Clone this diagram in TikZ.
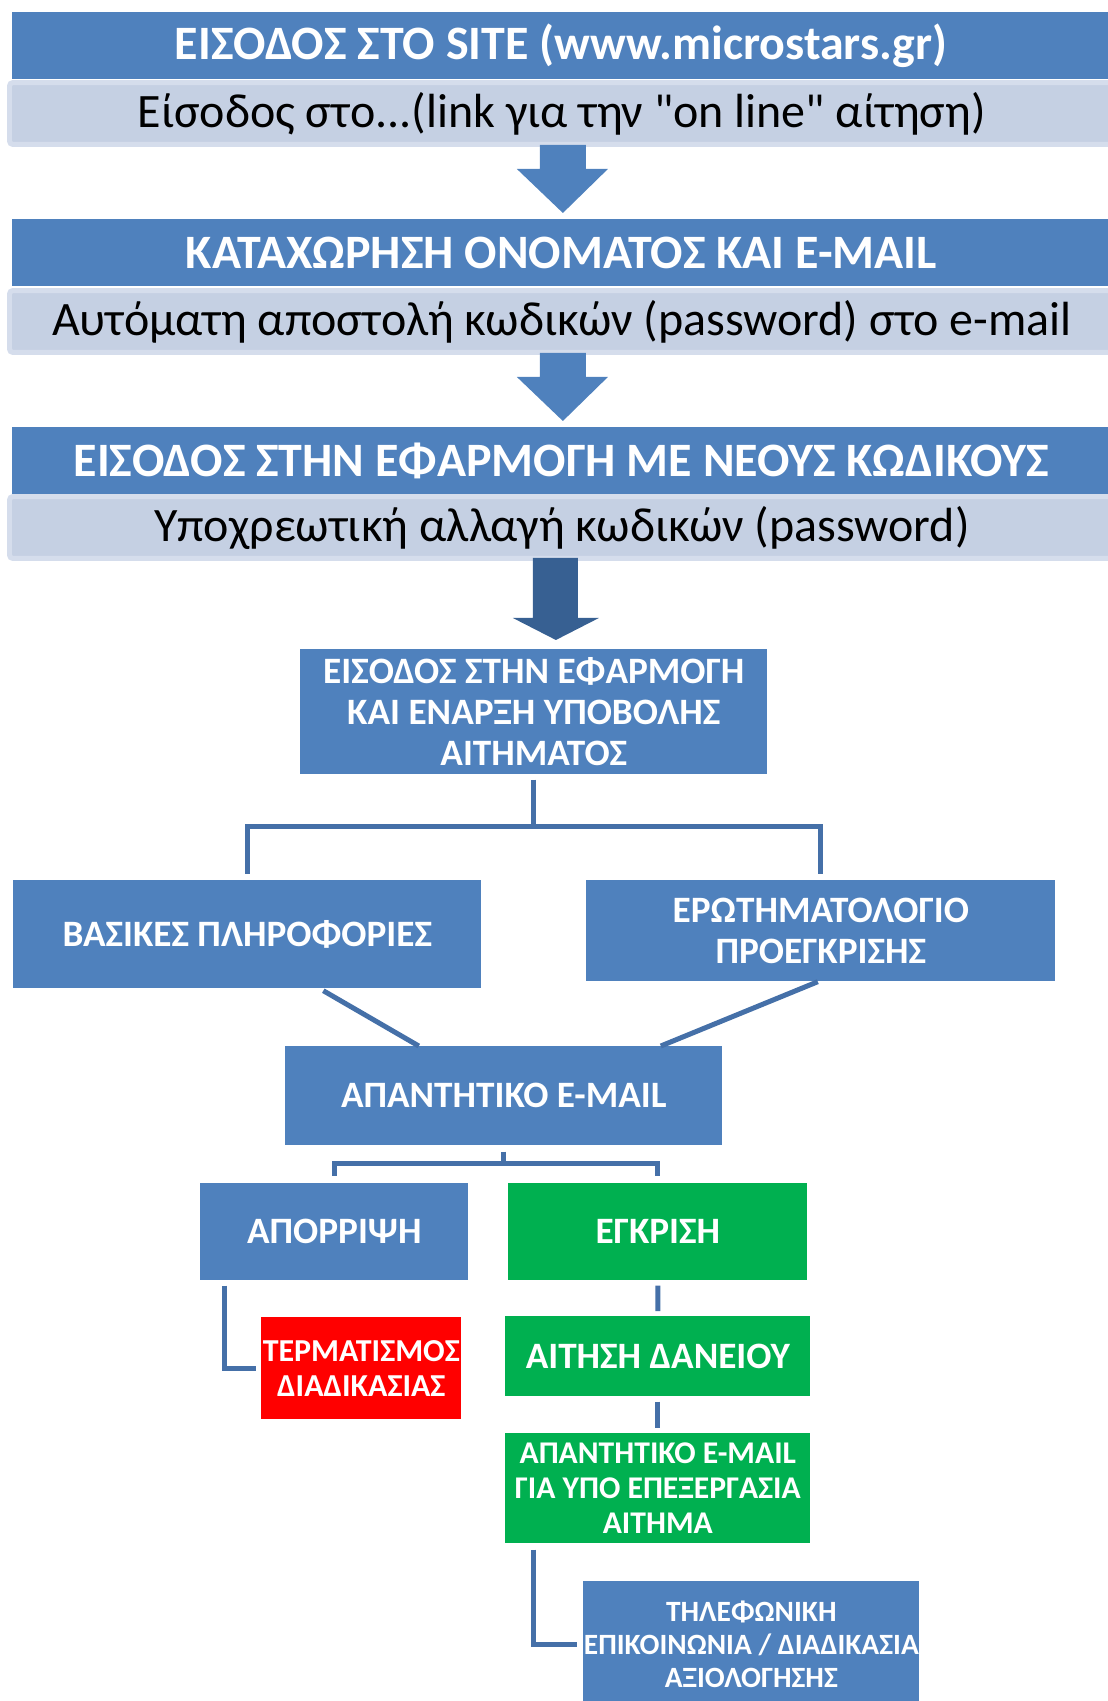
\documentclass[tikz,border=0pt]{standalone}
\usepackage{fontspec}
\setmainfont{Carlito}
\usetikzlibrary{calc}
\definecolor{hdrblue}{HTML}{4F81BD}
\definecolor{subfill}{HTML}{C5D0E3}
\definecolor{subedge}{HTML}{D5DDEC}
\definecolor{darkarrow}{HTML}{376092}
\definecolor{lineblue}{HTML}{4570A8}
\definecolor{okgreen}{HTML}{00B050}
\definecolor{stopred}{HTML}{FF0000}

\begin{document}
\begin{tikzpicture}[x=0.02cm,y=-0.02cm,
		hdr/.style={fill=hdrblue, text=white, anchor=north west, inner sep=0pt,
			minimum width=21.96cm, minimum height=1.34cm, font=\fontsize{27.3}{32}\selectfont\bfseries},
		sub/.style={fill=subfill, draw=subedge, line width=0.1cm, rounded corners=2pt, anchor=north west,
			inner sep=0pt, minimum width=22.1cm, minimum height=1.24cm, font=\fontsize{27.3}{32}\selectfont},
		box/.style={fill=hdrblue, text=white, anchor=north west, inner sep=0pt, align=center,
			font=\fontsize{21.2}{23.3}\selectfont\bfseries},
		conn/.style={draw=lineblue, line width=0.1cm}]
				\useasboundingbox (0,0) rectangle (1107,1701);
				
				\node[hdr] (hdr1) at (12,12) {ΕΙΣΟΔΟΣ ΣΤΟ SITE (www.microstars.gr)};
				\node[sub] (sub1) at (7,80) {Είσοδος στο...(link για την \textquotedbl on line\textquotedbl{} αίτηση)};
				\node[hdr] (hdr2) at (12,219) {ΚΑΤΑΧΩΡΗΣΗ ΟΝΟΜΑΤΟΣ ΚΑΙ E-MAIL};
				\node[sub] (sub2) at (7,288) {Αυτόματη αποστολή κωδικών (password) στο e-mail};
				\node[hdr] (hdr3) at (12,427) {ΕΙΣΟΔΟΣ ΣΤΗΝ ΕΦΑΡΜΟΓΗ ΜΕ ΝΕΟΥΣ ΚΩΔΙΚΟΥΣ};
				\node[sub] (sub3) at (7,494) {Υποχρεωτική αλλαγή κωδικών (password)};
				
				\foreach \a in {sub1,sub2}{
					\fill[hdrblue] ($(\a.south)+(-22,-2)$) -- ($(\a.south)+(-22,22)$) -- ($(\a.south)+(-45,22)$)
					-- ($(\a.south)+(1,66)$) -- ($(\a.south)+(46,22)$) -- ($(\a.south)+(24,22)$) -- ($(\a.south)+(24,-2)$) -- cycle;}
				\fill[darkarrow] ($(sub3.south)+(-29,-3)$) -- ($(sub3.south)+(-29,57)$) -- ($(sub3.south)+(-49,57)$)
				-- ($(sub3.south)+(-6,79)$) -- ($(sub3.south)+(37,57)$) -- ($(sub3.south)+(16,57)$) -- ($(sub3.south)+(16,-3)$) -- cycle;
				
				\node[box, minimum width=9.34cm, minimum height=2.5cm] (start) at (300,649)
				{ΕΙΣΟΔΟΣ ΣΤΗΝ ΕΦΑΡΜΟΓΗ\\ΚΑΙ ΕΝΑΡΞΗ ΥΠΟΒΟΛΗΣ\\ΑΙΤΗΜΑΤΟΣ};
				\node[box, minimum width=9.36cm, minimum height=2.16cm] (basic) at (13,880) {ΒΑΣΙΚΕΣ ΠΛΗΡΟΦΟΡΙΕΣ};
				\node[box, minimum width=9.38cm, minimum height=2.02cm] (quest) at (586,880) {ΕΡΩΤΗΜΑΤΟΛΟΓΙΟ\\ΠΡΟΕΓΚΡΙΣΗΣ};
				\node[box, minimum width=8.74cm, minimum height=1.98cm] (reply) at (285,1046) {ΑΠΑΝΤΗΤΙΚΟ E-MAIL};
				\node[box, minimum width=5.36cm, minimum height=1.94cm] (reject) at (200,1183) {ΑΠΟΡΡΙΨΗ};
				\node[box, fill=okgreen, minimum width=5.98cm, minimum height=1.94cm] (approve) at (508,1183) {ΕΓΚΡΙΣΗ};
				\node[box, fill=stopred, minimum width=4cm, minimum height=2.04cm,
				font=\fontsize{18.2}{19.9}\selectfont\bfseries] (term) at (261,1317) {ΤΕΡΜΑΤΙΣΜΟΣ\\ΔΙΑΔΙΚΑΣΙΑΣ};
				\node[box, fill=okgreen, minimum width=6.1cm, minimum height=1.6cm] (loan) at (505,1316) {ΑΙΤΗΣΗ ΔΑΝΕΙΟΥ};
				\node[box, fill=okgreen, minimum width=6.1cm, minimum height=2.2cm,
				font=\fontsize{18}{19.9}\selectfont\bfseries] (reply2) at (505,1433)
				{ΑΠΑΝΤΗΤΙΚΟ E-MAIL\\ΓΙΑ ΥΠΟ ΕΠΕΞΕΡΓΑΣΙΑ\\ΑΙΤΗΜΑ};
				\node[box, minimum width=6.72cm, minimum height=2.52cm,
				font=\fontsize{16.75}{18.8}\selectfont\bfseries] (phone) at (583,1581)
				{ΤΗΛΕΦΩΝΙΚΗ\\ΕΠΙΚΟΙΝΩΝΙΑ / ΔΙΑΔΙΚΑΣΙΑ\\ΑΞΙΟΛΟΓΗΣΗΣ};
				
				\coordinate (fork1) at (start.south |- 0,826);
				\coordinate (fork2) at ($(reply.south)+(0,18)$);
				
				\draw[conn, shorten <=0.1cm, shorten >=0.12cm] (start.south) -- (fork1) -| (basic.north);
				\draw[conn, shorten >=0.12cm] (fork1) -| (quest.north);
				\draw[conn] ($(basic.south)+(76,2)$) -- ($(reply.north)+(-85,0)$);
				\draw[conn] ($(quest.south)+(-3,0)$) -- ($(reply.north)+(157,0)$);
				
				\draw[conn, shorten <=0.12cm, shorten >=0.14cm] (reply.south) -- (fork2) -| (reject.north);
				\draw[conn, shorten >=0.14cm] (fork2) -| (approve.north);
				\draw[conn, shorten >=0.1cm] ($(reject.south west)+(24,5)$) |- (term.west);
				
				\foreach \a/\b in {approve/loan,loan/reply2}{
					\draw[conn, shorten <=0.1cm, shorten >=0.1cm] (\a.south) -- (\b.north);}
				\draw[conn, shorten >=0.12cm] ($(reply2.south west)+(28,6)$) |- (phone.west);
\end{tikzpicture}
\end{document}
